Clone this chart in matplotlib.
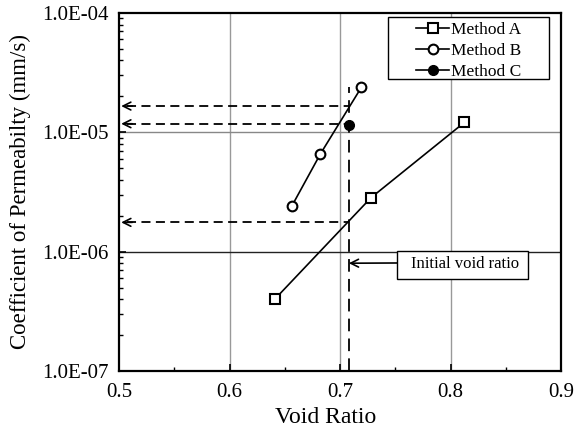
import matplotlib.pyplot as plt
from matplotlib.patches import Rectangle
from matplotlib.ticker import FixedLocator, LogLocator, NullFormatter, FuncFormatter

plt.rcParams['font.family'] = ['Liberation Serif', 'DejaVu Serif']

# data
a_void = [0.641, 0.728, 0.8125]
a_perm = [4.0e-7, 2.83e-6, 1.21e-5]
b_void = [0.6566, 0.6822, 0.7193]
b_perm = [2.43e-6, 6.58e-6, 2.38e-5]
c_void = [0.708]
c_perm = [1.145e-5]

e0 = 0.708                       # initial void ratio
e0_top = 2.4e-5
read_perm = [1.66e-5, 1.18e-5, 1.76e-6]   # values read at e0

fig = plt.figure(figsize=(5.79, 4.33), dpi=100)
ax = fig.add_axes([0.2055, 0.1432, 0.7635, 0.8268])

ax.set_yscale('log')
ax.set_xlim(0.5, 0.9)
ax.set_ylim(1e-7, 1e-4)

# grid
for x in [0.6, 0.7, 0.8]:
    ax.axvline(x, color='#999999', lw=1, zorder=0)
ax.axhline(1e-5, color='#888888', lw=1, zorder=0)
ax.axhline(1e-6, color='#222222', lw=1, zorder=0)

ax.plot(a_void, a_perm, color='black', lw=1.2, marker='s', ms=7,
        mfc='white', mec='black', mew=1.5, label='Method A', zorder=4)
ax.plot(b_void, b_perm, color='black', lw=1.2, marker='o', ms=7,
        mfc='white', mec='black', mew=1.5, label='Method B', zorder=4)
ax.plot(c_void, c_perm, color='black', lw=1.2, marker='o', ms=7,
        mfc='black', mec='black', label='Method C', zorder=4)

# vertical dashed line at initial void ratio
ax.plot([e0, e0], [1e-7, e0_top], color='black', lw=1.3, ls=(0, (7, 4)), zorder=3)

# horizontal dashed arrows
for p in read_perm:
    ax.plot([0.507, e0], [p, p], color='black', lw=1.3, ls=(0, (5, 3)), zorder=3)
    ax.annotate('', xy=(0.502, p), xytext=(0.512, p),
                arrowprops=dict(arrowstyle='->', color='black', lw=1.2,
                                mutation_scale=14, shrinkA=0, shrinkB=0))

# "Initial void ratio" callout
ax.add_patch(Rectangle((0.629, 0.257), 0.296, 0.078, transform=ax.transAxes,
                       fc='white', ec='black', lw=1, zorder=5))
ax.text(0.782, 0.298, 'Initial void ratio', transform=ax.transAxes,
        fontsize=12, ha='center', va='center', zorder=6)
ax.annotate('', xy=(e0, 8.0e-7), xycoords='data',
            xytext=(0.629, 0.3017), textcoords='axes fraction',
            arrowprops=dict(arrowstyle='->', color='black', lw=1.2,
                            mutation_scale=14, shrinkA=0, shrinkB=0))

ax.set_xticks([0.5, 0.6, 0.7, 0.8, 0.9])
ax.xaxis.set_minor_locator(FixedLocator([0.55, 0.65, 0.75, 0.85]))
ax.set_yticks([1e-7, 1e-6, 1e-5, 1e-4])
ax.yaxis.set_major_formatter(FuncFormatter(lambda v, p: '%.1E' % v))
ax.yaxis.set_minor_locator(LogLocator(base=10, subs=range(2, 10)))
ax.yaxis.set_minor_formatter(NullFormatter())
ax.tick_params(which='both', direction='in', right=False, top=False, labelsize=15)
ax.tick_params(which='major', length=5, width=1.2)
ax.tick_params(which='minor', length=3, width=1)
ax.tick_params(axis='x', pad=9)
ax.tick_params(axis='y', pad=7.5)

for s in ax.spines.values():
    s.set_linewidth(1.6)

ax.set_xlabel('Void Ratio', fontsize=17)
ax.xaxis.set_label_coords(0.468, -0.1)
ax.set_ylabel('Coefficient of Permeabilty (mm/s)', fontsize=16.5, labelpad=8)

# legend frame drawn separately
ax.add_patch(Rectangle((0.6086, 0.816), 0.3643, 0.173, transform=ax.transAxes,
                       fc='white', ec='black', lw=1, zorder=5))
leg = ax.legend(loc='center', bbox_to_anchor=(0.7907, 0.894), fontsize=12.5,
                frameon=False, handlelength=1.9, handletextpad=0.1,
                labelspacing=0.3, borderpad=0)
leg.set_zorder(6)

fig.savefig('out.png', dpi=100)
